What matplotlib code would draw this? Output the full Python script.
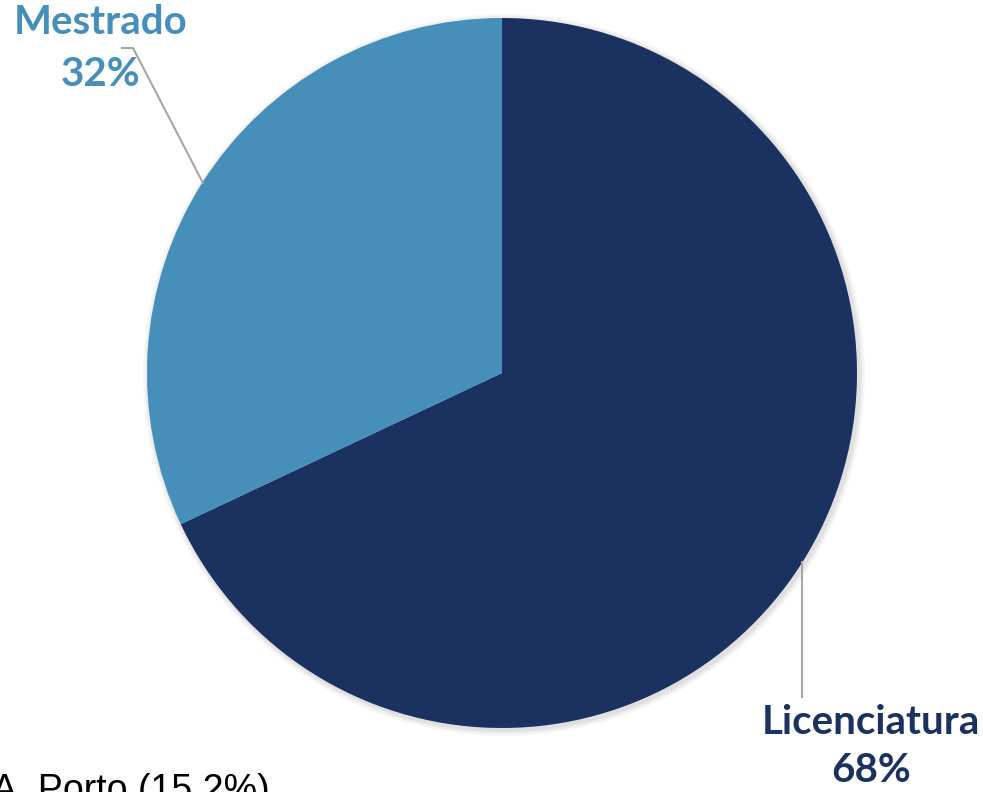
import matplotlib.pyplot as plt

labels = ['Licenciatura', 'Mestrado']
values = [68, 32]
colors = ['#1b3160', '#458fba']

fig = plt.figure(figsize=(9.83, 7.92), dpi=100)
ax = fig.add_axes([0, 0, 1, 1])

# soft shadow round the pie
for i, a in enumerate([0.05, 0.04, 0.03]):
    sh = plt.Circle((504, 417), 355 + 2 * (i + 1), color='black', alpha=a, lw=0)
    ax.add_patch(sh)

ax.pie(values, colors=colors, startangle=90, counterclock=False,
       center=(502, 419), radius=355, frame=True,
       wedgeprops=dict(linewidth=0))
ax.set_xlim(0, 983)
ax.set_ylim(0, 792)
ax.set_aspect('equal')
ax.axis('off')

font = ['Lato', 'DejaVu Sans']
ax.text(101, 770, labels[1], color=colors[1], fontsize=29, fontweight='bold',
        family=font, ha='center', va='center')
ax.text(101, 717, f'{values[1]}%', color=colors[1], fontsize=29, fontweight='bold',
        family=font, ha='center', va='center')
ax.plot([122, 133, 203], [744, 744, 609], color='#a6a6a6', lw=1.5)

ax.text(871, 70, labels[0], color=colors[0], fontsize=29, fontweight='bold',
        family=font, ha='center', va='center')
ax.text(871, 22, f'{values[0]}%', color=colors[0], fontsize=29, fontweight='bold',
        family=font, ha='center', va='center')
ax.plot([802, 802], [230, 95], color='#a6a6a6', lw=1.5)

# cut-off text from the page below
ax.text(-8, -9, 'A. Porto (15,2%)', color='black', fontsize=27,
        family=['Liberation Sans', 'DejaVu Sans'], ha='left', va='baseline')

fig.savefig('out.png', dpi=100)
